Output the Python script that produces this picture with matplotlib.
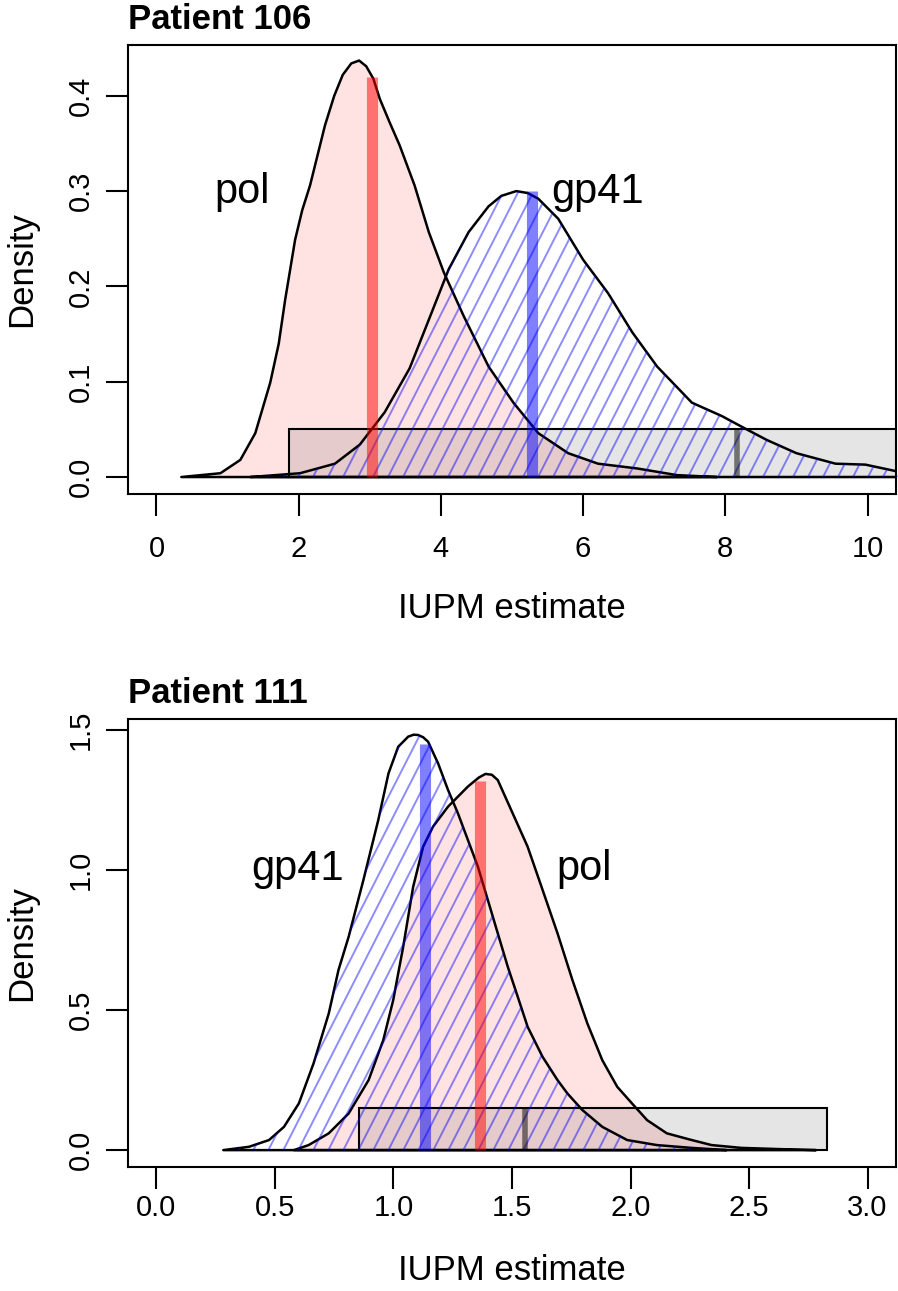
#!/usr/bin/env python3
"""Posterior IUPM densities for two patients: pol vs gp41, with combined estimate."""

import matplotlib
matplotlib.use("Agg")
import matplotlib.pyplot as plt
import numpy as np
from matplotlib.collections import LineCollection
from matplotlib.patches import Polygon, Rectangle

plt.rcParams["font.family"] = ["Liberation Sans", "DejaVu Sans"]

# ---- Patient 106 ----
P106_POL_X = [0.35, 0.90, 1.18, 1.39, 1.60, 1.72, 1.81, 1.95, 2.05, 2.16, 2.37, 2.50, 2.62,
              2.74, 2.85, 2.95, 3.05, 3.14, 3.28, 3.42, 3.63, 3.83, 4.04, 4.32, 4.67, 5.02,
              5.37, 5.79, 6.21, 6.76, 7.32, 7.88]
P106_POL_Y = [0.0, 0.004, 0.018, 0.046, 0.099, 0.140, 0.186, 0.249, 0.280, 0.306, 0.369, 0.400,
              0.422, 0.434, 0.437, 0.431, 0.418, 0.397, 0.372, 0.348, 0.306, 0.257, 0.215,
              0.169, 0.116, 0.078, 0.046, 0.025, 0.014, 0.009, 0.002, 0.0]
P106_GP41_X = [1.32, 2.02, 2.51, 2.86, 3.21, 3.56, 3.83, 4.11, 4.39, 4.67, 4.85, 5.06,
               5.22, 5.37, 5.65, 6.00, 6.35, 6.69, 7.04, 7.53, 7.95, 8.30, 8.58, 9.00,
               9.55, 9.97, 10.41, 10.9, 11.5]
P106_GP41_Y = [0.0, 0.004, 0.014, 0.034, 0.068, 0.114, 0.165, 0.218, 0.257, 0.284, 0.295, 0.300,
               0.298, 0.292, 0.271, 0.228, 0.193, 0.152, 0.116, 0.078, 0.064, 0.050, 0.039, 0.025,
               0.014, 0.013, 0.006, 0.003, 0.0]
P106_EST = [3.03, 5.28]        # pol, gp41 point estimates
P106_EST_H = [0.42, 0.30]
P106_COMB = 8.16               # combined estimate
P106_CI = [1.87, 12.0]
P106_BOX_H = 0.05

# ---- Patient 111 ----
P111_POL_X = [0.58, 0.642, 0.727, 0.811, 0.895, 0.957, 0.999, 1.041, 1.083, 1.125, 1.167,
              1.230, 1.314, 1.360, 1.388, 1.415, 1.440, 1.503, 1.566, 1.629, 1.692, 1.755,
              1.818, 1.881, 1.944, 2.006, 2.070, 2.153, 2.258, 2.342, 2.468, 2.615, 2.783]
P111_POL_Y = [0.0, 0.018, 0.060, 0.131, 0.250, 0.393, 0.536, 0.726, 0.940, 1.083, 1.155,
              1.226, 1.298, 1.330, 1.343, 1.340, 1.321, 1.202, 1.083, 0.929, 0.774, 0.607,
              0.452, 0.321, 0.226, 0.167, 0.107, 0.060, 0.036, 0.018, 0.008, 0.004, 0.0]
P111_GP41_X = [0.282, 0.391, 0.475, 0.538, 0.601, 0.663, 0.727, 0.768, 0.811, 0.873, 0.936,
               0.979, 1.020, 1.062, 1.085, 1.104, 1.125, 1.146, 1.188, 1.230, 1.272, 1.314,
               1.356, 1.398, 1.440, 1.482, 1.524, 1.566, 1.629, 1.692, 1.734, 1.797, 1.881,
               1.986, 2.111, 2.258, 2.405]
P111_GP41_Y = [0.0, 0.012, 0.036, 0.083, 0.167, 0.310, 0.488, 0.643, 0.762, 0.964, 1.179,
               1.345, 1.440, 1.476, 1.483, 1.482, 1.474, 1.458, 1.381, 1.286, 1.202, 1.107,
               1.012, 0.893, 0.774, 0.655, 0.548, 0.440, 0.333, 0.250, 0.202, 0.143, 0.083,
               0.036, 0.018, 0.008, 0.0]
P111_EST = [1.364, 1.134]      # pol, gp41
P111_EST_H = [1.318, 1.449]
P111_COMB = 1.555
P111_CI = [0.855, 2.831]
P111_BOX_H = 0.15

PINK = (1, 0, 0, 0.11)
RED = (1, 0, 0, 0.5)
BLUE = (0, 0, 1, 0.5)
HATCH = (0, 0, 1, 0.45)


def hatch(ax, patch, angle=63, step=15):
    """Diagonal shading lines (like R's polygon density=) clipped to a patch."""
    pos = ax.get_position()
    fw, fh = ax.figure.get_size_inches() * ax.figure.dpi
    w, h = pos.width * fw, pos.height * fh
    run = h / np.tan(np.radians(angle))
    segs = [[(x0 / w, 0), ((x0 + run) / w, 1)] for x0 in np.arange(-run, w, step)]
    lc = LineCollection(segs, transform=ax.transAxes, colors=[HATCH], linewidths=1.4)
    lc.set_clip_path(patch)
    ax.add_collection(lc, autolim=False)


def panel(ax, pol_x, pol_y, gp_x, gp_y, est, est_h, comb, ci, box_h):
    pol = Polygon(np.column_stack([pol_x, pol_y]), closed=True,
                  facecolor=PINK, edgecolor="none")
    ax.add_patch(pol)
    gp = Polygon(np.column_stack([gp_x, gp_y]), closed=True,
                 facecolor="none", edgecolor="none")
    ax.add_patch(gp)
    hatch(ax, gp)
    ax.add_patch(Polygon(np.column_stack([pol_x, pol_y]), closed=True,
                         facecolor="none", edgecolor="black", lw=1.8, joinstyle="round"))
    ax.add_patch(Polygon(np.column_stack([gp_x, gp_y]), closed=True,
                         facecolor="none", edgecolor="black", lw=1.8, joinstyle="round"))
    ax.plot([est[0], est[0]], [0, est_h[0]], color=RED, lw=8, solid_capstyle="butt")
    ax.plot([est[1], est[1]], [0, est_h[1]], color=BLUE, lw=8, solid_capstyle="butt")
    ax.add_patch(Rectangle((ci[0], 0), ci[1] - ci[0], box_h,
                           facecolor=(0, 0, 0, 0.1), edgecolor="black", lw=1.5))
    ax.plot([comb, comb], [0, box_h], color=(0, 0, 0, 0.5), lw=4, solid_capstyle="butt")


def style(ax, title, xlab_y):
    for s in ax.spines.values():
        s.set_linewidth(1.5)
    ax.tick_params(direction="out", length=16, width=1.5, labelsize=21)
    plt.setp(ax.get_yticklabels(), rotation=90, va="center")
    ax.text(0.0, 1.058, title, transform=ax.transAxes, ha="left", va="center",
            fontsize=25, fontweight="bold")
    ax.text(0.5, xlab_y, "IUPM estimate", transform=ax.transAxes, ha="center",
            va="baseline", fontsize=25)
    ax.text(-0.138, 0.5, "Density", transform=ax.transAxes, ha="center",
            va="center", rotation=90, fontsize=25)


fig = plt.figure(figsize=(8.98, 12.91), dpi=100)
ax1 = fig.add_axes([0.14254, 0.61758, 0.85523, 0.34733])
ax2 = fig.add_axes([0.14254, 0.09628, 0.85523, 0.34678])

# Patient 106
panel(ax1, P106_POL_X, P106_POL_Y, P106_GP41_X, P106_GP41_Y,
      P106_EST, P106_EST_H, P106_COMB, P106_CI, P106_BOX_H)
ax1.set_xlim(-0.4, 10.4)
ax1.set_ylim(-0.0175, 0.453)
ax1.set_xticks([0, 2, 4, 6, 8, 10])
ax1.set_yticks([0.0, 0.1, 0.2, 0.3, 0.4])
ax1.set_yticklabels(["0.0", "0.1", "0.2", "0.3", "0.4"])
ax1.text(1.2, 0.288, "pol", ha="center", va="baseline", fontsize=30)
ax1.text(6.2, 0.288, "gp41", ha="center", va="baseline", fontsize=30)
style(ax1, "Patient 106", -0.278)
ax1.tick_params(axis="x", pad=14)
ax1.tick_params(axis="y", pad=8)

# Patient 111
panel(ax2, P111_POL_X, P111_POL_Y, P111_GP41_X, P111_GP41_Y,
      P111_EST, P111_EST_H, P111_COMB, P111_CI, P111_BOX_H)
ax2.set_xlim(-0.12, 3.12)
ax2.set_ylim(-0.0592, 1.539)
ax2.set_xticks([0.0, 0.5, 1.0, 1.5, 2.0, 2.5, 3.0])
ax2.set_xticklabels(["0.0", "0.5", "1.0", "1.5", "2.0", "2.5", "3.0"])
ax2.set_yticks([0.0, 0.5, 1.0, 1.5])
ax2.set_yticklabels(["0.0", "0.5", "1.0", "1.5"])
ax2.text(0.596, 0.964, "gp41", ha="center", va="baseline", fontsize=30)
ax2.text(1.805, 0.964, "pol", ha="center", va="baseline", fontsize=30)
style(ax2, "Patient 111", -0.253)
ax2.tick_params(axis="x", pad=4)
ax2.tick_params(axis="y", pad=8)

fig.savefig("out.png", dpi=100)
plt.close(fig)
